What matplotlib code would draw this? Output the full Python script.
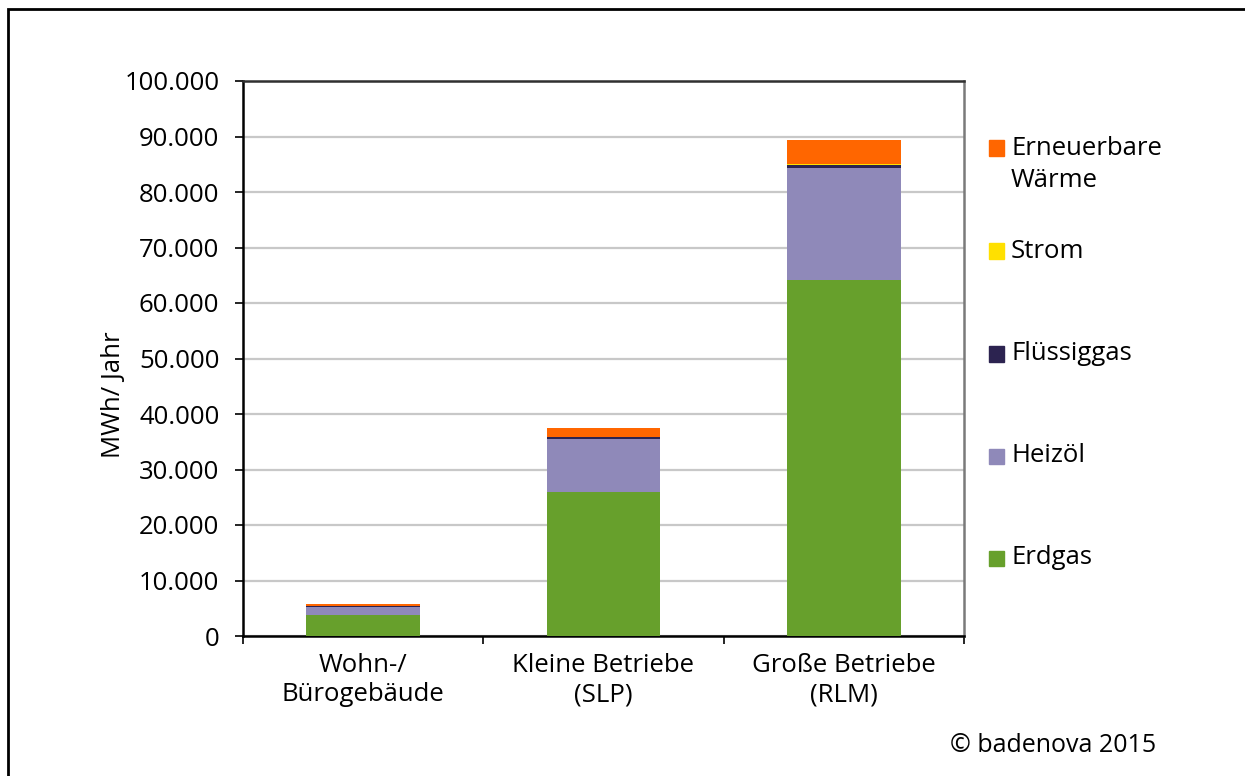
import numpy as np
import matplotlib
matplotlib.use("Agg")
import matplotlib.pyplot as plt
from matplotlib.patches import Rectangle

plt.rcParams['font.family'] = ['Open Sans', 'DejaVu Sans']

# Wärmebedarf nach Verbrauchergruppe, in MWh/Jahr
categories = ["Wohn-/\nBürogebäude", "Kleine Betriebe\n(SLP)", "Große Betriebe\n(RLM)"]
erdgas = [3800, 26000, 64200]
heizoel = [1450, 9500, 20200]
fluessiggas = [100, 300, 500]
strom = [50, 100, 100]
erneuerbare = [300, 1600, 4300]

series = [
    ("Erdgas", erdgas, "#67a02c"),
    ("Heizöl", heizoel, "#8f89b9"),
    ("Flüssiggas", fluessiggas, "#2c2350"),
    ("Strom", strom, "#ffe000"),
    ("Erneuerbare\nWärme", erneuerbare, "#ff6600"),
]

W, H = 1245, 776
fig = plt.figure(figsize=(W / 100, H / 100), dpi=100)
ax = fig.add_axes([243 / W, 1 - 636 / H, (964 - 243) / W, (636 - 81) / H])

x = np.arange(len(categories))
bottom = np.zeros(len(categories))
for name, vals, col in series:
    ax.bar(x, vals, width=0.474, bottom=bottom, color=col, linewidth=0, zorder=3)
    bottom += np.array(vals)

ax.set_xlim(-0.5, 2.5)
ax.set_ylim(0, 100000)
yt = np.arange(0, 100001, 10000)
ax.set_yticks(yt)
ax.set_yticklabels([f"{v:,}".replace(",", ".") for v in yt])
ax.yaxis.grid(True, color="#c8c8c8", linewidth=1.6, zorder=0)
ax.tick_params(axis="y", length=6, width=1.2, pad=11, labelsize=18.5, direction="out")

# Kategoriegrenzen als Ticks, Beschriftung mittig
ax.set_xticks([-0.5, 0.5, 1.5, 2.5])
ax.set_xticklabels([])
ax.set_xticks(x, minor=True)
ax.set_xticklabels(categories, minor=True, fontsize=18.5, linespacing=1.25)
ax.tick_params(axis="x", which="major", length=6, width=1.2, direction="out")
ax.tick_params(axis="x", which="minor", length=0, pad=12)

ax.set_ylabel("MWh/ Jahr", fontsize=18.5)
ax.yaxis.set_label_coords(-0.162, 0.434)

for side in ["left", "bottom"]:
    ax.spines[side].set_linewidth(1.8)
    ax.spines[side].set_color("black")
ax.spines["top"].set_linewidth(1.8)
ax.spines["top"].set_color("#303030")
ax.spines["right"].set_linewidth(1.8)
ax.spines["right"].set_color("#7a7a7a")

# Legende: Kästchen auf Höhe der ersten Textzeile
leg_y = [558, 456, 354, 251, 148]
for (name, vals, col), yy in zip(series, leg_y):
    fig.patches.append(Rectangle((989 / W, 1 - (yy + 7.5) / H), 15 / W, 15 / H,
                                 transform=fig.transFigure, color=col))
    n_lines = name.count("\n")
    fig.text(1011 / W, 1 - (yy + 16.5 * n_lines) / H, name, fontsize=18.5, va="center",
             ha="left", linespacing=1.42)

fig.text(950 / W, 1 - 745 / H, "© badenova 2015", fontsize=18, ha="left", va="center")

# Rahmen um die Grafik
fig.patches.append(Rectangle((8 / W, -0.05), 1.2, 1 - 9.5 / H + 0.05, transform=fig.transFigure,
                             fill=False, edgecolor="black", linewidth=2))

fig.savefig("out.png", dpi=100)
